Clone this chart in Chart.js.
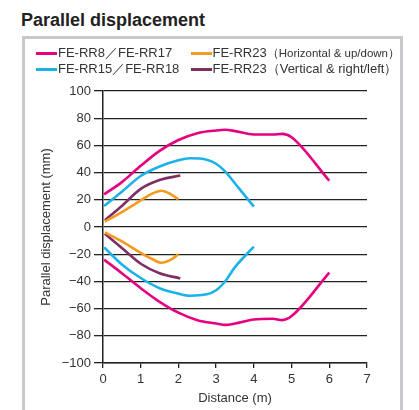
<!DOCTYPE html>
<html>
<head>
<meta charset="utf-8">
<script src="https://cdn.jsdelivr.net/npm/chart.js@4/dist/chart.umd.min.js"></script>
<style>
  html, body { margin:0; padding:0; background:#fff; }
  body { width:419px; height:410px; overflow:hidden; position:relative; font-family:"Liberation Sans", Arial, Helvetica, sans-serif; }
  #title { position:absolute; left:21px; top:10px; font-size:18px; font-weight:bold; line-height:20px; color:#222; white-space:nowrap; }
  #frame { position:absolute; left:22px; top:36px; width:375px; height:400px; border:3px solid #c9c9cd; }
  #legend { position:absolute; left:36px; top:45px; display:grid; grid-template-columns:154.5px auto; grid-auto-rows:16px; color:#333; font-size:13px; line-height:16px; white-space:nowrap; }
  .item { display:flex; align-items:center; }
  .mark { display:inline-block; width:21px; height:3px; margin-right:1px; }
  .note1 { font-size:11.5px; }
  .note2 { font-size:13px; }
  #c { position:absolute; left:0; top:0; }
</style>
</head>
<body>
<div id="title">Parallel displacement</div>
<div id="frame"></div>
<canvas id="c" width="419" height="410"></canvas>
<div id="legend"></div>
<script>
// ---- data ----
const seriesNames = ["FE-RR8／FE-RR17", "FE-RR23", "FE-RR15／FE-RR18", "FE-RR23"];
const seriesNotes = ["", "（Horizontal & up/down）", "", "（Vertical & right/left）"];
const seriesColors = ["#e5007f", "#f39a1f", "#1db1ec", "#7e2e62"];

// FE-RR8 / FE-RR17
const rr8X     = [0.03, 0.5, 1, 1.5, 2, 2.5, 3, 3.25, 3.5, 4, 4.5, 4.75, 5, 6];
const rr8Upper = [24, 33, 45, 56, 64, 69, 71, 71.5, 70.5, 68, 68, 68.5, 66, 34];
const rr8Lower = [-24, -34, -45, -55, -63, -68.5, -71, -72, -71, -68, -67.5, -68.5, -65.5, -33.5];

// FE-RR23 (Horizontal & up/down)
const rr23hX     = [0.05, 0.5, 1, 1.3, 1.55, 1.8, 2.0];
const rr23hUpper = [4, 11, 19.5, 24.5, 26.6, 24, 20.3];
const rr23hLower = [-4, -10.5, -19, -23.5, -26.3, -24, -20];

// FE-RR15 / FE-RR18
const rr15X     = [0.03, 0.5, 1, 1.5, 2, 2.3, 2.75, 3, 3.25, 3.5, 4];
const rr15Upper = [15.5, 26, 37.5, 44.5, 49, 50.5, 49.5, 46.5, 40.5, 32, 15];
const rr15Lower = [-15, -27.5, -37.5, -45, -49, -50.5, -49.5, -46.5, -39.5, -29.5, -14.5];

// FE-RR23 (Vertical & right/left)
const rr23vX     = [0.05, 0.5, 1, 1.5, 2.05];
const rr23vUpper = [5, 15.5, 28, 34.5, 37.8];
const rr23vLower = [-5, -15.5, -27, -34, -37.8];

// tick values
const yTicks = [-100, -80, -60, -40, -20, 0, 20, 40, 60, 80, 100];
const xTicks = [0, 1, 2, 3, 4, 5, 6, 7];

function pts(xs, ys) { return xs.map((x, i) => ({ x: x, y: ys[i] })); }

const groups = [
  [rr8X, rr8Upper, rr8Lower],
  [rr23hX, rr23hUpper, rr23hLower],
  [rr15X, rr15Upper, rr15Lower],
  [rr23vX, rr23vUpper, rr23vLower]
];

const datasets = [];
groups.forEach((g, i) => {
  const common = {
    borderColor: seriesColors[i], backgroundColor: seriesColors[i],
    borderWidth: 2.6, pointRadius: 0, cubicInterpolationMode: 'monotone', fill: false,
    borderCapStyle: 'butt'
  };
  datasets.push(Object.assign({ label: seriesNames[i] + seriesNotes[i], data: pts(g[0], g[1]) }, common));
  datasets.push(Object.assign({ label: seriesNames[i] + seriesNotes[i] + " lower", data: pts(g[0], g[2]) }, common));
});

// HTML legend (2 x 2 grid)
const legend = document.getElementById('legend');
[0, 1, 2, 3].forEach(i => {
  const d = document.createElement('div');
  d.className = 'item';
  const m = document.createElement('span');
  m.className = 'mark';
  m.style.background = seriesColors[i];
  d.appendChild(m);
  d.appendChild(document.createTextNode(seriesNames[i]));
  if (seriesNotes[i]) {
    const s = document.createElement('span');
    s.className = i === 1 ? 'note1' : 'note2';
    s.textContent = seriesNotes[i];
    d.appendChild(s);
  }
  legend.appendChild(d);
});

const FONT = "'Liberation Sans', Arial, Helvetica, sans-serif";
const AX = '#222';

new Chart(document.getElementById('c'), {
  type: 'line',
  data: { datasets: datasets },
  options: {
    responsive: false,
    animation: false,
    layout: { padding: { top: 91, right: 52, bottom: 0, left: 0 } },
    plugins: { legend: { display: false }, title: { display: false }, tooltip: { enabled: false } },
    scales: {
      x: {
        type: 'linear', min: 0, max: 7,
        afterBuildTicks: s => { s.ticks = xTicks.map(v => ({ value: v })); },
        afterFit: s => { s.height = 47; },
        grid: { drawOnChartArea: false, drawTicks: true, tickLength: 5, color: AX, lineWidth: 1.3 },
        border: { display: true, color: AX, width: 1.5 },
        ticks: { color: '#333', font: { family: FONT, size: 13 }, padding: 4, maxRotation: 0 },
        title: { display: true, text: 'Distance (m)', color: '#333', font: { family: FONT, size: 13 }, padding: { top: 0, bottom: 4 } }
      },
      y: {
        type: 'linear', min: -100, max: 100,
        afterBuildTicks: s => { s.ticks = yTicks.map(v => ({ value: v })); },
        afterFit: s => { s.width = 103; },
        grid: { color: AX, lineWidth: 1.3, drawTicks: true, tickLength: 9 },
        border: { display: true, color: AX, width: 1.5 },
        ticks: { color: '#333', font: { family: FONT, size: 13 }, padding: 3,
          callback: v => v < 0 ? '\u2212' + Math.abs(v) : String(v) },
        title: { display: true, text: 'Parallel displacement (mm)', color: '#333', font: { family: FONT, size: 13 }, padding: { top: 39, bottom: 0 } }
      }
    }
  }
});
</script>
</body>
</html>
